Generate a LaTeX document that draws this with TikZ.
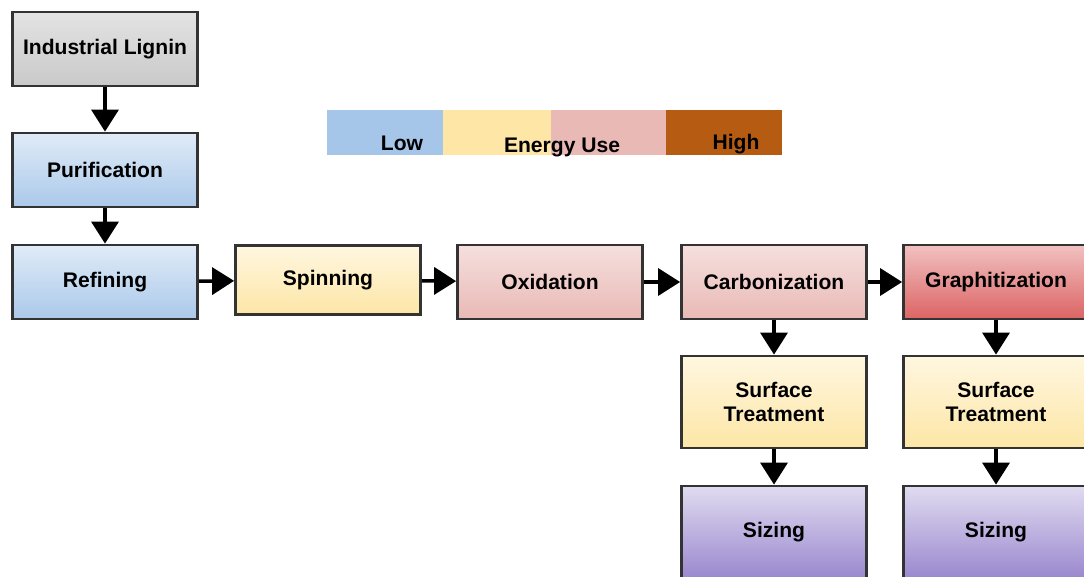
\documentclass[tikz,border=0pt]{standalone}
\usepackage{fontspec}
\setmainfont{Liberation Sans}
\usetikzlibrary{arrows.meta}

\definecolor{lowblue}{HTML}{A6C6E9}
\definecolor{midyellow}{HTML}{FDE6A6}
\definecolor{midpink}{HTML}{E9B9B5}
\definecolor{highbrown}{HTML}{B65C12}
\definecolor{boxline}{HTML}{333333}
\definecolor{graphred}{HTML}{DC6464}
\definecolor{sizeviolet}{HTML}{9A88CE}

\tikzset{
	stage/.style={draw=boxline, line width=1.6pt, minimum width=3.7cm, minimum height=1.48cm,
		align=center, font=\bfseries\fontsize{12}{13.5}\selectfont, inner sep=2pt},
	graybox/.style={stage, top color=gray!22, bottom color=gray!42},
	bluebox/.style={stage, top color=lowblue!35, bottom color=lowblue!95},
	yellowbox/.style={stage, top color=midyellow!35, bottom color=midyellow},
	pinkbox/.style={stage, top color=midpink!45, bottom color=midpink},
	redbox/.style={stage, top color=graphred!40, bottom color=graphred},
	purplebox/.style={stage, top color=sizeviolet!30, bottom color=sizeviolet},
	flow/.style={line width=2pt, -{Triangle[length=0.44cm, width=0.54cm]}},
	legendtext/.style={font=\bfseries\fontsize{12}{13.5}\selectfont}
}

\begin{document}
\begin{tikzpicture}[x=0.02cm, y=-0.02cm]
	\useasboundingbox (0,0) rectangle (1084,577);

	% energy legend
	\fill[lowblue] (327,110) rectangle (443,155);
	\fill[midyellow] (443,110) rectangle (551,155);
	\fill[midpink] (551,110) rectangle (666,155);
	\fill[highbrown] (666,110) rectangle (782,155);
	\node[legendtext] (low) at (402,143) {Low};
	\node[legendtext] (energy) at (562,147) {Energy Use};
	\node[legendtext] (high) at (736,144) {High};

	% process stages
	\node[graybox] (lignin) at (105,49) {Industrial Lignin};
	\node[bluebox] (purif) at (105,170) {Purification};
	\node[bluebox] (refin) at (105,282) {Refining};
	\node[yellowbox, minimum height=1.38cm] (spin) at (328,280) {Spinning};
	\node[pinkbox] (oxid) at (550,282) {Oxidation};
	\node[pinkbox] (carb) at (774,282) {Carbonization};
	\node[redbox] (graph) at (996,282) {Graphitization};
	\node[yellowbox, minimum height=1.84cm] (surfA) at (774,402) {Surface\\Treatment};
	\node[yellowbox, minimum height=1.84cm] (surfB) at (996,402) {Surface\\Treatment};
	\node[purplebox, minimum height=1.84cm] (sizeA) at (774,532) {Sizing};
	\node[purplebox, minimum height=1.84cm] (sizeB) at (996,532) {Sizing};

	% connectors
	\draw[flow] (lignin) -- (purif);
	\draw[flow] (purif) -- (refin);
	\draw[flow] (refin) -- (spin);
	\draw[flow] (spin) -- (oxid);
	\draw[flow] (oxid) -- (carb);
	\draw[flow] (carb) -- (graph);
	\draw[flow] (carb) -- (surfA);
	\draw[flow] (surfA) -- (sizeA);
	\draw[flow] (graph) -- (surfB);
	\draw[flow] (surfB) -- (sizeB);
\end{tikzpicture}
\end{document}
